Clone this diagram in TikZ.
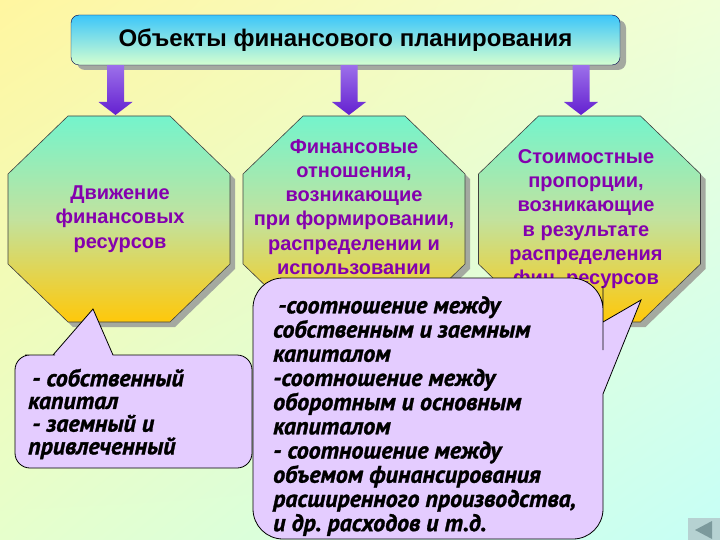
\documentclass[tikz,border=0pt]{standalone}
\usepackage{fontspec}
\setmainfont{Liberation Sans}
\newfontfamily\ptsans[BoldItalicFeatures={FakeBold=1.2}]{PT Sans}
\usetikzlibrary{calc,shadows,shadings}
\frenchspacing
\definecolor{bgA}{HTML}{FFF6A0}
\definecolor{bgB}{HTML}{F0FFD8}
\definecolor{bgC}{HTML}{E6FFCC}
\definecolor{bgD}{HTML}{C6FFF6}
\definecolor{skyblue}{HTML}{3CC6FA}
\definecolor{palegreen}{HTML}{D4FFD0}
\definecolor{aqua}{HTML}{74F4CC}
\definecolor{midgreen}{HTML}{C2E29E}
\definecolor{gold}{HTML}{FFC80A}
\definecolor{shadowgray}{HTML}{A4A9A0}
\definecolor{txtpurple}{HTML}{8400AE}
\definecolor{lilac}{HTML}{E4CCFF}
\definecolor{arrowtop}{HTML}{9C70EA}
\definecolor{arrowbot}{HTML}{6420D0}
\definecolor{navbox}{HTML}{B6D2D2}
\definecolor{navtri}{HTML}{7C9A9C}
\newcommand\octagon[2]{%
  \begin{scope}[shift={(#1,#2)}]
    \foreach \d/\s in {5/octshadow,0/octfill}
      \path[\s, shift={(\d,\d)}] (-51,-103) -- (51,-103) -- (111,-45) -- (111,45)
        -- (51,103) -- (-51,103) -- (-111,45) -- (-111,-45) -- cycle;
  \end{scope}}
\newcommand\fatarrow[2]{%
  \shade[arrowfill] ($(#1)+(-8.5,0)$) -- ($(#2)+(-8.5,-13)$) -- ($(#2)+(-17,-13)$) -- (#2)
    -- ($(#2)+(17,-13)$) -- ($(#2)+(8.5,-13)$) -- ($(#1)+(8.5,0)$) -- cycle;}
\begin{document}
\begin{tikzpicture}[x=1pt, y=-1pt,
  titlebox/.style={minimum width=549pt, minimum height=50pt, rounded corners=8pt,
    draw=black!70!blue, top color=skyblue, bottom color=palegreen,
    drop shadow={shadow xshift=6pt, shadow yshift=-5pt, fill=shadowgray, opacity=1},
    font=\bfseries\fontsize{24pt}{28pt}\selectfont},
  octshadow/.style={fill=shadowgray},
  octfill/.style={draw=black!75, line width=0.6pt, top color=aqua, bottom color=gold, middle color=midgreen},
  octtext/.style={align=center, inner sep=0pt, text=txtpurple,
    font=\bfseries\fontsize{20pt}{24.3pt}\selectfont},
  arrowfill/.style={top color=arrowtop, bottom color=arrowbot},
  callout/.style={draw=black, line width=0.8pt, fill=lilac},
  calltext/.style={align=left, inner sep=0pt, anchor=west,
    font=\ptsans\bfseries\itshape\fontsize{24pt}{24.2pt}\selectfont}]
\useasboundingbox (0,0) rectangle (720,540);
\shade[upper left=bgA, upper right=bgB, lower left=bgC, lower right=bgD] (0,0) rectangle (720,540);
\octagon{119}{219}
\octagon{354}{219}
\octagon{589.5}{219}
\node[titlebox] (title) at (345.5,40) {Объекты финансового планирования};
\node[octtext] (mvt) at (120,219) {Движение\\финансовых\\ресурсов};
\node[octtext] (rel) at (354,207) {Финансовые\\отношения,\\возникающие\\при формировании,\\распределении и\\использовании};
\node[octtext] (prop) at (586,219) {Стоимостные\\пропорции,\\возникающие\\в результате\\распределения\\фин. ресурсов};
\coordinate (tipA) at (115.5,115);
\coordinate (tipB) at (349,115);
\coordinate (tipC) at (581,115);
\foreach \t in {tipA,tipB,tipC} \fatarrow{title.south -| \t}{\t};
\draw[callout] (53,355) -- (93,309) -- (113,355) -- (180,355) [rounded corners=15pt] -- (252,355)
  -- (252,468) -- (15,468) -- (15,355) -- (40,355) [sharp corners] -- cycle;
\node[calltext, font=\ptsans\bfseries\itshape\fontsize{24pt}{22.7pt}\selectfont] (capital) at (28,414)
  {\hspace*{4pt}- собственный\\капитал\\\hspace*{4pt}- заемный и\\привлеченный};
\draw[callout] (400,278) [rounded corners=32pt] -- (603,278) -- (603,318) [sharp corners] -- (603,322)
  -- (641,300) -- (603,394) -- (603,420) [rounded corners=30pt] -- (603,539) -- (253,539)
  -- (253,278) -- (380,278) [sharp corners] -- cycle;
\node[calltext] (ratio) at (273,416)
  {\hspace*{5pt}-соотношение между\\собственным и заемным\\капиталом\\-соотношение между\\оборотным и основным\\капиталом\\- соотношение между\\объемом финансирования\\расширенного производства,\\и др. расходов и т.д.};
\fill[navbox] (688,518) rectangle (720,540);
\fill[navtri] (695,530) -- (712,521) -- (712,539) -- cycle;
\end{tikzpicture}
\end{document}
